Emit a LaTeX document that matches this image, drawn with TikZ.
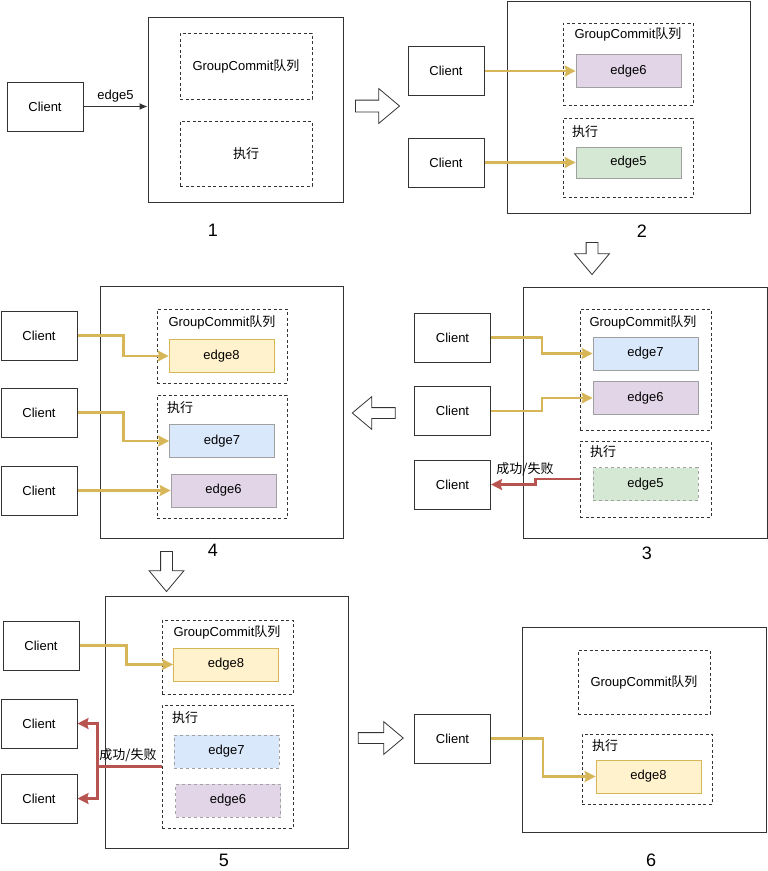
\documentclass[tikz,border=0pt]{standalone}
\usepackage{fontspec}
\setmainfont{Liberation Sans}
\newfontfamily\cjk{Noto Sans CJK SC}
\usepackage{tikz}
\usetikzlibrary{arrows.meta, shapes.arrows}

\definecolor{boxline}{HTML}{333333}
\definecolor{itemline}{HTML}{A0A0A0}
\definecolor{yel}{HTML}{D6B656}
\definecolor{yelfill}{HTML}{FFF2CC}
\definecolor{redline}{HTML}{B85450}
\definecolor{bluefill}{HTML}{DAE8FC}
\definecolor{purplefill}{HTML}{E1D5E7}
\definecolor{greenfill}{HTML}{D5E8D4}

\newcommand{\gcqueue}{GroupCommit{\cjk 队列}}
\newcommand{\exectext}{{\cjk 执行}}
\newcommand{\failtext}{{\cjk 成功/失败}}

\begin{document}
\begin{tikzpicture}[x=1pt, y=-1pt,
    txt/.style={font=\fontsize{13}{15}\selectfont},
    client/.style={txt, draw=boxline, line width=1pt, minimum width=76pt, minimum height=49pt, inner sep=0pt},
    panel/.style={draw=boxline, line width=1pt, inner sep=0pt},
    part/.style={txt, draw=boxline, line width=0.9pt, dash pattern=on 3pt off 2.5pt, inner sep=0pt},
    item/.style={txt, draw=itemline, line width=0.8pt, minimum width=105pt, minimum height=33pt, inner sep=0pt},
    title/.style={txt, inner sep=0pt},
    numlabel/.style={font=\fontsize{18}{20}\selectfont},
    bigarrow/.style={single arrow, draw=boxline, line width=0.8pt, inner xsep=0pt, inner ysep=5.5pt,
        single arrow head extend=11.5pt, single arrow tip angle=80},
    plain/.style={draw=boxline, line width=1pt, -{Latex[length=8pt, width=7pt]}},
    send/.style={draw=yel, line width=2.2pt, -{Stealth[length=11pt, width=11pt, inset=1.5pt]}},
    back/.style={draw=redline, line width=2.2pt, -{Stealth[length=11pt, width=11pt, inset=1.5pt]}}]
\useasboundingbox (0,0) rectangle (768,871);

% step 1
\node[panel, minimum width=195pt, minimum height=185pt] (p1) at (245.5,109.5) {};
\node[part, minimum width=132pt, minimum height=66pt] (g1) at (246,66) {\gcqueue};
\node[part, minimum width=132pt, minimum height=65pt] (e1) at (246,153.5) {\exectext};
\node[client] (c1) at (45,106.5) {Client};
\draw[plain] (c1.east) -- node[txt, above] {edge5} (c1.east -| p1.west);
\node[numlabel] (n1) at (213,230) {1};
\node[bigarrow, minimum height=44pt] (a12) at (374,106) {};

% step 2
\node[panel, minimum width=243pt, minimum height=212pt] (p2) at (628.5,107) {};
\node[part, minimum width=130pt, minimum height=82pt] (g2) at (628,64) {};
\node[part, minimum width=130pt, minimum height=79pt] (e2) at (628,157.5) {};
\node[title] (g2t) at (628,34) {\gcqueue};
\node[title, anchor=west] (e2t) at (572,132) {\exectext};
\node[item, fill=purplefill] (b2a) at (628.5,71) {edge6};
\node[item, fill=greenfill, minimum height=31pt] (b2b) at (628.5,162.5) {edge5};
\node[client] (c2a) at (446,71) {Client};
\node[client] (c2b) at (446,162.5) {Client};
\draw[send] (c2a) -- (b2a);
\draw[send] (c2b) -- (b2b);
\node[numlabel] (n2) at (642,231) {2};
\node[bigarrow, minimum height=32pt, rotate=-90] (a23) at (592,255) {};

% step 3
\node[panel, minimum width=244pt, minimum height=251pt] (p3) at (645,412.5) {};
\node[part, minimum width=131pt, minimum height=121pt] (g3) at (645.5,369.5) {};
\node[part, minimum width=131pt, minimum height=76pt] (e3) at (645.5,479) {};
\node[title] (g3t) at (643,322) {\gcqueue};
\node[title, anchor=west] (e3t) at (590,452) {\exectext};
\node[item, fill=bluefill] (b3a) at (645.5,353.5) {edge7};
\node[item, fill=purplefill] (b3b) at (645.5,398) {edge6};
\node[item, fill=greenfill, dashed] (b3c) at (645.5,484) {edge5};
\node[client] (c3a) at (452.5,337.5) {Client};
\node[client] (c3b) at (452.5,411) {Client};
\node[client] (c3c) at (452.5,484.5) {Client};
\draw[send] (c3a.east) -- ++(51,0) |- (b3a.west);
\draw[send] (c3b.east) -- ++(51,0) |- (b3b.west);
\draw[back] (e3.west) -- ++(-44,0) |- (c3c.east);
\node[txt] (r3) at (525,469) {\failtext};
\node[numlabel] (n3) at (647,553) {3};
\node[bigarrow, minimum height=43pt, inner ysep=5pt, single arrow head extend=11pt, rotate=180] (a34) at (377,413) {};

% step 4
\node[panel, minimum width=243pt, minimum height=252pt] (p4) at (221.5,412) {};
\node[part, minimum width=130pt, minimum height=74pt] (g4) at (222,346) {};
\node[part, minimum width=130pt, minimum height=123pt] (e4) at (222,456.5) {};
\node[title] (g4t) at (222,322) {\gcqueue};
\node[title, anchor=west] (e4t) at (167,408) {\exectext};
\node[item, fill=yelfill, draw=yel] (b4a) at (221.5,356) {edge8};
\node[item, fill=bluefill] (b4b) at (222,441) {edge7};
\node[item, fill=purplefill] (b4c) at (223.5,490.5) {edge6};
\node[client] (c4a) at (39,335.5) {Client};
\node[client] (c4b) at (39,412.5) {Client};
\node[client] (c4c) at (39,490.5) {Client};
\draw[send] (c4a.east) -- ++(46,0) |- (b4a.west);
\draw[send] (c4b.east) -- ++(46,0) |- (b4b.west);
\draw[send] (c4c) -- (b4c);
\node[numlabel] (n4) at (213,550) {4};
\node[bigarrow, minimum height=40pt, rotate=-90] (a45) at (166.5,568) {};

% step 5
\node[panel, minimum width=243pt, minimum height=252pt] (p5) at (226.5,722) {};
\node[part, minimum width=131pt, minimum height=74pt] (g5) at (227.5,657) {};
\node[part, minimum width=131pt, minimum height=123pt] (e5) at (227.5,766.5) {};
\node[title] (g5t) at (227,632) {\gcqueue};
\node[title, anchor=west] (e5t) at (172,718) {\exectext};
\node[item, fill=yelfill, draw=yel] (b5a) at (226,664.5) {edge8};
\node[item, fill=bluefill, dashed] (b5b) at (226.5,751.5) {edge7};
\node[item, fill=purplefill, dashed] (b5c) at (228,800.5) {edge6};
\node[client] (c5a) at (41,645.5) {Client};
\node[client] (c5b) at (39,723.5) {Client};
\node[client] (c5c) at (39,798.5) {Client};
\draw[send] (c5a.east) -- ++(47,0) |- (b5a.west);
\draw[back] (e5.west) -- ++(-64,0) coordinate (j5) |- (c5b.east);
\draw[back] (j5) |- (c5c.east);
\node[txt] (r5) at (128,755) {\failtext};
\node[numlabel] (n5) at (224,860) {5};
\node[bigarrow, minimum height=45pt, inner ysep=5pt, single arrow head extend=11pt] (a56) at (377.5,738) {};

% step 6
\node[panel, minimum width=244pt, minimum height=205pt] (p6) at (644,729.5) {};
\node[part, minimum width=132pt, minimum height=64pt] (g6) at (644,682) {\gcqueue};
\node[part, minimum width=130pt, minimum height=70pt] (e6) at (647,769) {};
\node[title, anchor=west] (e6t) at (592,746) {\exectext};
\node[item, fill=yelfill, draw=yel] (b6) at (648.5,776.5) {edge8};
\node[client] (c6) at (452.5,738.5) {Client};
\draw[send] (c6.east) -- ++(52,0) |- (b6.west);
\node[numlabel] (n6) at (651,860) {6};
\end{tikzpicture}
\end{document}
